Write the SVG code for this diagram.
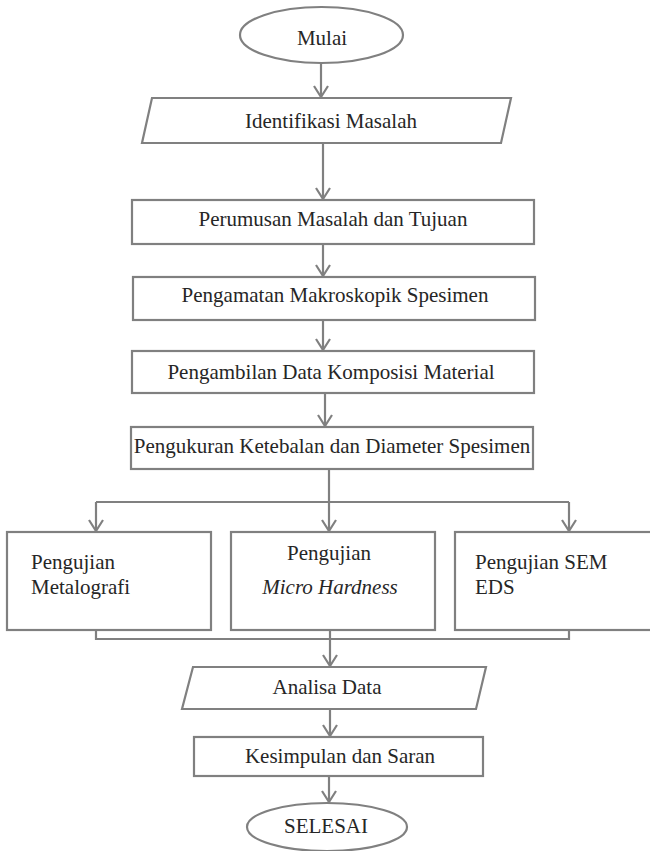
<svg xmlns="http://www.w3.org/2000/svg" width="650" height="851" viewBox="0 0 650 851">
<style>
.s{fill:#fff;stroke:#808080;stroke-width:2.2}
.c{fill:none;stroke:#808080;stroke-width:2.2}
text{font-family:'Liberation Serif','DejaVu Serif',serif;font-size:21px;fill:#262626}
.m{text-anchor:middle}
.i{font-style:italic}
</style>
<defs>
<marker id="ah" markerUnits="userSpaceOnUse" markerWidth="20" markerHeight="20" viewBox="-13 -10 16 20" refX="0" refY="0" orient="auto">
<path d="M-11,-7 L0,0 L-11,7" fill="none" stroke="#808080" stroke-width="2.2"/>
</marker>
</defs>
<rect width="650" height="851" fill="#fff"/>
<g id="connectors">
<line class="c" x1="321" y1="63" x2="321" y2="97" marker-end="url(#ah)"/>
<line class="c" x1="323" y1="143" x2="323" y2="199" marker-end="url(#ah)"/>
<line class="c" x1="323" y1="244" x2="323" y2="276" marker-end="url(#ah)"/>
<line class="c" x1="323" y1="320" x2="323" y2="350" marker-end="url(#ah)"/>
<line class="c" x1="325" y1="393" x2="325" y2="426" marker-end="url(#ah)"/>
<polyline class="c" points="329,469 329,502"/>
<line class="c" x1="96" y1="502" x2="569" y2="502"/>
<line class="c" x1="96" y1="502" x2="96" y2="531" marker-end="url(#ah)"/>
<line class="c" x1="329" y1="502" x2="329" y2="531" marker-end="url(#ah)"/>
<line class="c" x1="569" y1="502" x2="569" y2="531" marker-end="url(#ah)"/>
<polyline class="c" points="96,630 96,639 569,639 569,630"/>
<line class="c" x1="330" y1="627" x2="330" y2="666" marker-end="url(#ah)"/>
<line class="c" x1="330" y1="705" x2="330" y2="736" marker-end="url(#ah)"/>
<line class="c" x1="329" y1="776" x2="329" y2="802" marker-end="url(#ah)"/>
</g>
<g id="mulai">
<ellipse class="s" cx="321.5" cy="35" rx="81.5" ry="28"/>
<text class="m" x="322" y="45" font-family="Liberation Serif">Mulai</text>
</g>
<g id="identifikasi">
<polygon class="s" points="152,98 511,98 501,143 142,143"/>
<text class="m" x="331" y="128">Identifikasi Masalah</text>
</g>
<g id="perumusan">
<rect class="s" x="132" y="200" width="402" height="44"/>
<text class="m" x="333" y="226">Perumusan Masalah dan Tujuan</text>
</g>
<g id="pengamatan">
<rect class="s" x="133" y="277" width="402" height="43"/>
<text class="m" x="335" y="302">Pengamatan Makroskopik Spesimen</text>
</g>
<g id="pengambilan">
<rect class="s" x="132" y="351" width="402" height="42"/>
<text class="m" x="331" y="379">Pengambilan Data Komposisi Material</text>
</g>
<g id="pengukuran">
<rect class="s" x="131" y="427" width="402" height="42"/>
<text class="m" x="332" y="453">Pengukuran Ketebalan dan Diameter Spesimen</text>
</g>
<g id="metalografi">
<rect class="s" x="7" y="532" width="204" height="98"/>
<text x="31" y="569">Pengujian</text>
<text x="31" y="594">Metalografi</text>
</g>
<g id="microhardness">
<rect class="s" x="231" y="532" width="204" height="98"/>
<text class="m" x="329" y="560">Pengujian</text>
<text class="m i" x="330" y="594">Micro Hardness</text>
</g>
<g id="sem">
<rect class="s" x="455" y="532" width="200" height="98"/>
<text x="475" y="569">Pengujian SEM</text>
<text x="475" y="594">EDS</text>
</g>
<g id="analisa">
<polygon class="s" points="193,667 486,667 476,709 182,709"/>
<text class="m" x="327" y="694">Analisa Data</text>
</g>
<g id="kesimpulan">
<rect class="s" x="194" y="737" width="289" height="39"/>
<text class="m" x="340" y="763">Kesimpulan dan Saran</text>
</g>
<g id="selesai">
<ellipse class="s" cx="327" cy="827" rx="80" ry="24"/>
<text class="m" x="326" y="833">SELESAI</text>
</g>
</svg>
